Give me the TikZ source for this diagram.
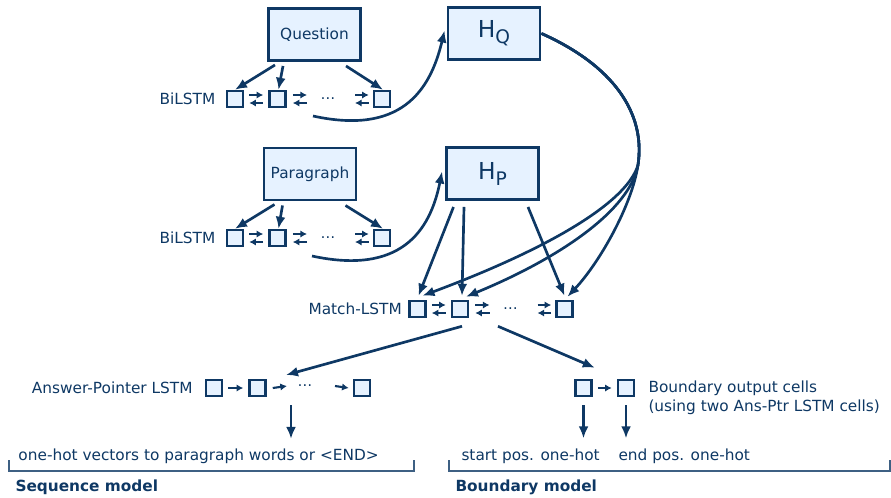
\documentclass[tikz,border=0pt]{standalone}
\usepackage{fontspec}
\setmainfont{DejaVu Sans}
\usetikzlibrary{arrows.meta,calc}

\definecolor{navy}{RGB}{14,56,100}
\definecolor{cellfill}{RGB}{230,242,255}

% two opposite arrows between neighbouring cells
\newcommand{\bipair}[2]{%
  \draw[thin arr] ($#1+(0,-4)$) -- ($#2+(0,-4)$);
  \draw[thin arr] ($#2+(0,4)$) -- ($#1+(0,4)$);}

\tikzset{every picture/.style={line width=0.75pt}}
\tikzset{
  inbox/.style={draw=navy, fill=cellfill, line width=2.2pt, minimum width=69pt, minimum height=39pt, text=navy, font=\fontsize{11.5}{13}\selectfont},
  hbox/.style={inbox, font=\fontsize{17.5}{20}\selectfont},
  cell/.style={draw=navy, fill=cellfill, line width=1.9pt, minimum size=12pt, inner sep=0pt},
  lbl/.style={text=navy, inner sep=0pt, font=\fontsize{11.5}{14.25}\selectfont},
  dotslbl/.style={lbl, font=\fontsize{11}{11}\selectfont},
  title/.style={lbl, font=\fontsize{11.5}{14}\selectfont\bfseries},
  arr/.style={draw=navy, line width=2pt, -{Latex[length=9pt,width=7.5pt]}},
  thin arr/.style={draw=navy, line width=1.6pt, -{Latex[length=5pt,width=5.5pt]}},
  bracket/.style={draw=navy!80, line width=0.9pt},
}

\begin{document}
\begin{tikzpicture}[x=0.75pt,y=0.75pt,yscale=-1,xscale=1]
\useasboundingbox (0,0) rectangle (891,497);

% Inputs and encoded matrices
\node[inbox] (ques) at (314.5,34.5) {Question};
\node[inbox] (para) at (310,174) {Paragraph};
\node[hbox] (hq) at (494,33.5) {H\raisebox{-4.5pt}{\fontsize{14}{14}\selectfont Q}};
\node[hbox] (hp) at (492.5,173.5) {H\raisebox{-4.5pt}{\fontsize{14}{14}\selectfont P}};

% LSTM rows: q = question, p = paragraph, m = match
\foreach \r/\x/\y in {q/235/99,p/235/238,m/417.5/309}{
  \node[cell] (\r1) at (\x,\y) {};
  \node[cell] (\r2) at ($(\r1)+(42.5,0)$) {};
  \node[dotslbl] (\r dots) at ($(\r1)+(93,0)$) {\textellipsis};
  \node[cell] (\r3) at ($(\r1)+(147,0)$) {};
  \bipair{(\r1.east)+(5,0)}{(\r2.west)+(-5,0)}
  \bipair{(\r2.east)+(6,0)}{(\r dots)+(-21,0)}
  \bipair{(\r dots)+(27,0)}{(\r3.west)+(-4,0)}
}
\node[lbl, anchor=east] (qlab) at ($(q1.west)+(-10,0)$) {BiLSTM};
\node[lbl, anchor=east] (plab) at ($(p1.west)+(-10,0)$) {BiLSTM};
\node[lbl, anchor=east] (mlab) at ($(m1.west)+(-6,0)$) {Match-LSTM};

% Inputs into the BiLSTM cells
\draw[arr] ($(ques.south)+(-39.5,3)$) -- (q1.north);
\draw[arr] ($(ques.south)+(-31.5,4)$) -- ($(q2.north)+(1,0)$);
\draw[arr] ($(ques.south)+(31.5,4)$) -- ($(q3.north)+(1,0)$);
\draw[arr] ($(para.south)+(-35.5,3)$) -- (p1.north);
\draw[arr] ($(para.south)+(-27.5,4)$) -- ($(p2.north)+(1,0)$);
\draw[arr] ($(para.south)+(35.5,4)$) -- ($(p3.north)+(1,0)$);

% BiLSTM outputs into H
\coordinate (qout) at ($(q2)+(35.5,17)$);
\coordinate (pout) at ($(p2)+(34.5,18)$);
\draw[arr] (qout) .. controls (400,135) and (430,92) .. ($(hq.west)+(-2,-3)$);
\draw[arr] (pout) .. controls (400,275) and (430,232) .. ($(hp.west)+(-3,-2)$);

% H_P into the match cells
\draw[arr] ($(hp.south)+(-39,6)$) -- ($(m1.north)+(1,-4)$);
\draw[arr] ($(hp.south)+(-28.5,6)$) -- ($(m2.north)+(2,-4)$);
\draw[arr] ($(hp.south)+(35.5,6)$) -- ($(m3.north)+(0,-4)$);

% H_Q into the match cells
\coordinate (hqbend) at (638,165);
\draw[arr] (hq.east) .. controls (612,65) and (646,112) .. (hqbend) .. controls (632,205) and (600,262) .. ($(m3.north)+(3,-3)$);
\draw[arr] (hq.east) .. controls (612,65) and (646,112) .. (hqbend) .. controls (630,210) and (560,258) .. ($(m2.north)+(6,-3)$);
\draw[arr] (hq.east) .. controls (612,65) and (646,112) .. (hqbend) .. controls (626,205) and (540,252) .. ($(m1.north)+(5,-4)$);

% Answer pointer (sequence model)
\node[cell] (a1) at (214,388) {};
\node[cell] (a2) at (257.5,388) {};
\node[dotslbl] (adots) at (305,386) {\textellipsis};
\node[cell] (a3) at (362,388) {};
\draw[thin arr] ($(a1.east)+(5,0)$) -- ($(a2.west)+(-5,0)$);
\draw[thin arr] ($(a2.east)+(6,0)$) -- ($(adots)+(-18,0)$);
\draw[thin arr] ($(adots)+(30,0)$) -- ($(a3.west)+(-4,0)$);
\node[lbl, anchor=base east] (alab) at (193,393) {Answer-Pointer LSTM};

% Boundary cells
\node[cell] (b1) at (583.5,388) {};
\node[cell] (b2) at (626,388) {};
\draw[thin arr] ($(b1.east)+(5,0)$) -- ($(b2.west)+(-5,0)$);
\node[lbl, anchor=west, align=left] (blab) at (648,398) {Boundary output cells\\(using two Ans-Ptr LSTM cells)};

% Match outputs
\draw[arr] ($(m2.south)+(2,8)$) -- ($(adots)+(-19,-11)$);
\draw[arr] ($(m2.south)+(38,8)$) -- ($(b1.north east)+(2,-11)$);

% Outputs
\node[lbl, anchor=base west] (seqtxt) at (18,460) {one-hot vectors to paragraph words or <END>};
\node[lbl, anchor=base west] (starttxt) at (461,460) {start pos. one-hot};
\node[lbl, anchor=base west] (endtxt) at (618,460) {end pos. one-hot};
\coordinate (aout) at ($(a2.south)+(33.5,8)$);
\draw[arr] (aout) -- ($(aout |- seqtxt.north)+(0,-9)$);
\draw[arr] ($(b1.south)+(0,8)$) -- ($(b1.south)+(0,41)$);
\draw[arr] ($(b2.south)+(0,8)$) -- ($(b2.south)+(0,41)$);

% Brackets and model names
\draw[bracket] (9,460) -- (9,471) -- (414,471) -- (414,460);
\draw[bracket] (449,460) -- (449,471) -- (890,471) -- (890,460);
\node[title, anchor=base west] (seqname) at (15,491) {Sequence model};
\node[title, anchor=base west] (bndname) at (455,491) {Boundary model};

\end{tikzpicture}
\end{document}
